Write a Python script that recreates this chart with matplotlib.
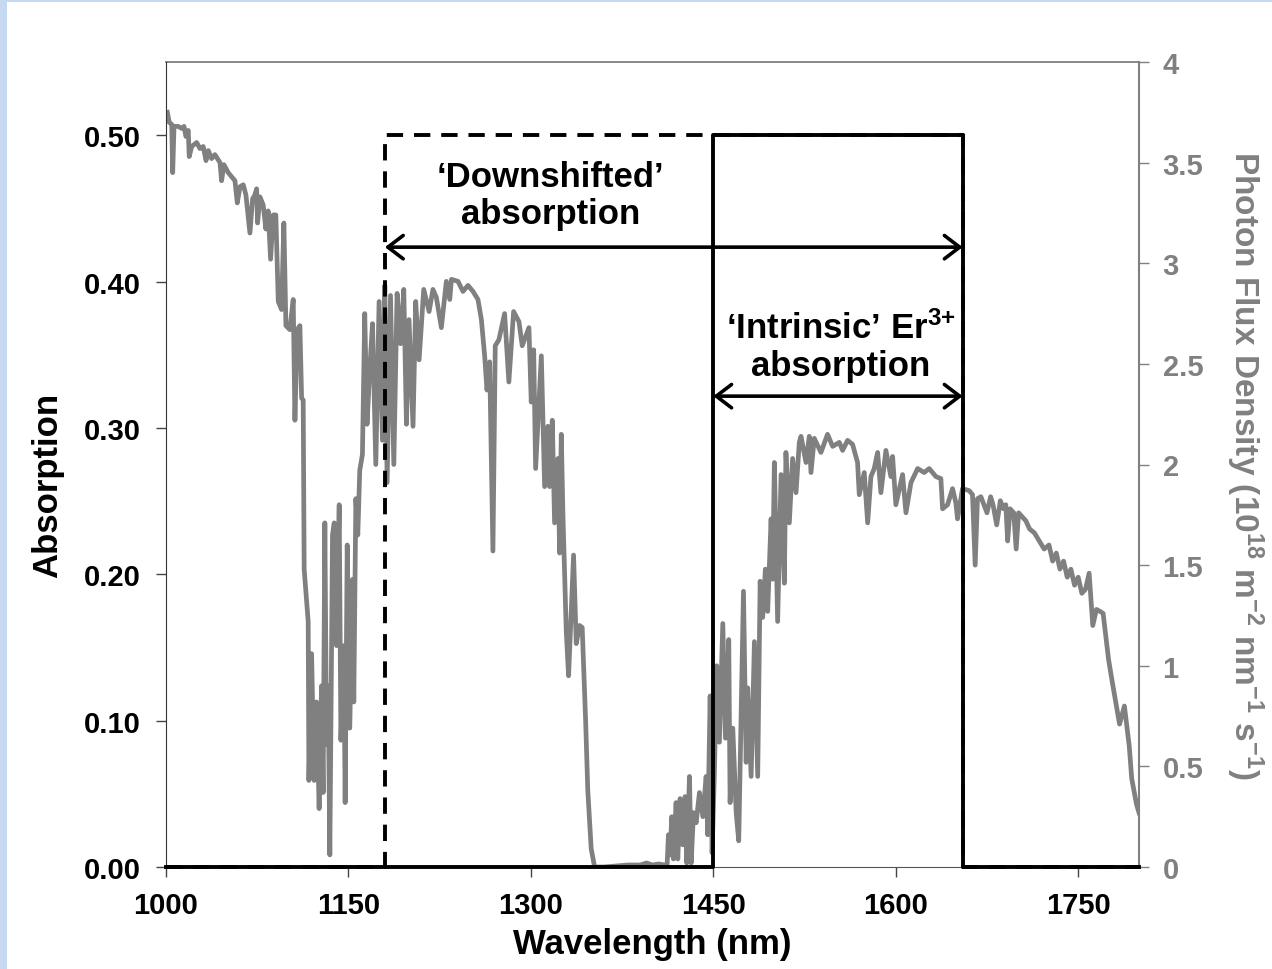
import matplotlib
matplotlib.use("Agg")
import matplotlib.pyplot as plt
from matplotlib.patches import Rectangle

plt.rcParams['font.family'] = ['Liberation Sans', 'DejaVu Sans']
plt.rcParams['font.weight'] = 'bold'
plt.rcParams['mathtext.fontset'] = 'custom'
plt.rcParams['mathtext.rm'] = 'Liberation Sans:bold'
plt.rcParams['mathtext.it'] = 'Liberation Sans:bold'
plt.rcParams['mathtext.bf'] = 'Liberation Sans:bold'

# ---------------- data ----------------
# Solar photon flux density (10^18 m^-2 nm^-1 s^-1)
wavelength = [
    1001.1, 1002.7, 1004.7, 1005.5, 1006.6, 1010.1, 1012.9, 1014.8, 1016.4, 1018.3,
    1019.1, 1021.1, 1025.2, 1027.9, 1030.6, 1032.9, 1034.8, 1037.5, 1040.2, 1044.4,
    1045.7, 1047.6, 1051.2, 1053.9, 1056.7, 1058.6, 1060.8, 1063.5, 1065.7, 1069.0,
    1071.2, 1073.1, 1074.5, 1075.3, 1077.2, 1079.9, 1082.1, 1084.0, 1086.0, 1088.1,
    1090.3, 1092.3, 1095.0, 1096.9, 1098.6, 1101.8, 1104.6, 1106.0, 1107.9, 1110.1,
    1111.5, 1112.8, 1113.6, 1116.9, 1117.5, 1119.7, 1121.8, 1123.8, 1125.9, 1127.9,
    1129.2, 1130.6, 1132.0, 1133.3, 1134.7, 1136.9, 1138.3, 1140.2, 1142.4, 1143.8,
    1146.2, 1147.3, 1149.0, 1151.1, 1153.4, 1154.4, 1156.1, 1157.7, 1159.3, 1161.5,
    1163.4, 1165.3, 1167.6, 1169.8, 1172.5, 1175.2, 1178.0, 1179.9, 1181.8, 1184.6,
    1187.3, 1190.0, 1192.8, 1195.5, 1197.7, 1199.8, 1203.1, 1205.3, 1208.1, 1211.9,
    1216.3, 1219.5, 1222.3, 1226.4, 1230.5, 1233.3, 1234.7, 1240.1, 1244.2, 1248.3,
    1252.4, 1256.5, 1259.3, 1262.0, 1263.9, 1266.1, 1268.8, 1270.7, 1273.7, 1278.4,
    1281.9, 1285.8, 1290.2, 1292.9, 1298.4, 1300.3, 1302.3, 1303.9, 1308.6, 1311.3,
    1314.0, 1315.4, 1317.6, 1319.5, 1322.3, 1323.6, 1325.0, 1326.4, 1329.1, 1331.0,
    1335.1, 1337.3, 1340.0, 1342.2, 1345.0, 1346.8, 1349.6, 1352.4, 1360.0, 1370.0,
    1380.0, 1390.0, 1395.0, 1400.0, 1405.0, 1410.0, 1412.0, 1413.1, 1414.5, 1415.8,
    1417.2, 1419.4, 1420.8, 1422.7, 1424.9, 1426.8, 1428.2, 1430.4, 1431.8, 1433.7,
    1435.9, 1438.6, 1441.4, 1444.1, 1445.4, 1447.4, 1449.0, 1450.9, 1452.8, 1455.0,
    1457.8, 1460.0, 1462.7, 1463.8, 1466.0, 1468.8, 1470.9, 1474.8, 1477.0, 1478.3,
    1481.1, 1483.8, 1486.5, 1488.5, 1490.6, 1492.8, 1494.7, 1497.5, 1498.8, 1500.2,
    1502.9, 1505.7, 1508.4, 1509.7, 1512.5, 1515.2, 1518.0, 1520.7, 1522.1, 1526.2,
    1528.9, 1530.3, 1533.0, 1538.5, 1543.9, 1548.1, 1553.6, 1556.3, 1560.4, 1564.5,
    1568.6, 1570.0, 1574.1, 1576.9, 1579.6, 1582.3, 1585.1, 1587.8, 1591.9, 1596.0,
    1597.4, 1600.1, 1605.6, 1608.4, 1612.5, 1618.0, 1623.4, 1627.5, 1633.0, 1637.1,
    1638.5, 1642.6, 1646.7, 1649.4, 1650.8, 1654.9, 1660.4, 1663.1, 1665.3, 1667.2,
    1670.0, 1672.5, 1675.0, 1678.0, 1680.0, 1683.0, 1686.0, 1688.5, 1690.5, 1692.0,
    1694.0, 1697.0, 1699.0, 1701.0, 1704.0, 1707.0, 1710.0, 1714.0, 1718.0, 1722.0,
    1726.0, 1729.0, 1732.0, 1735.0, 1738.0, 1741.0, 1744.0, 1747.0, 1750.0, 1753.0,
    1756.0, 1759.0, 1762.0, 1765.0, 1768.0, 1770.5, 1775.0, 1778.0, 1784.0, 1788.0,
    1792.0, 1794.0, 1798.0, 1800.0,
]
photon_flux = [
    3.75, 3.70, 3.69, 3.45, 3.68, 3.68, 3.67, 3.68, 3.63, 3.66,
    3.53, 3.58, 3.60, 3.57, 3.58, 3.51, 3.56, 3.52, 3.54, 3.50,
    3.41, 3.49, 3.45, 3.43, 3.41, 3.30, 3.38, 3.39, 3.34, 3.15,
    3.32, 3.34, 3.37, 3.20, 3.33, 3.29, 3.17, 3.26, 3.02, 3.24,
    3.24, 2.81, 2.77, 3.20, 2.69, 2.67, 2.82, 2.22, 2.67, 2.69,
    2.33, 2.32, 1.48, 1.22, 0.43, 1.06, 0.43, 0.82, 0.29, 0.90,
    0.37, 1.71, 0.61, 0.90, 0.06, 1.65, 1.71, 1.10, 1.80, 0.63,
    1.10, 0.32, 1.60, 0.69, 1.43, 0.82, 1.83, 1.65, 1.97, 2.05,
    2.75, 2.20, 2.48, 2.70, 2.00, 2.81, 2.12, 2.89, 1.91, 2.84,
    2.00, 2.85, 2.60, 2.87, 2.20, 2.72, 2.19, 2.81, 2.52, 2.87,
    2.76, 2.87, 2.83, 2.68, 2.91, 2.82, 2.92, 2.91, 2.86, 2.89,
    2.86, 2.82, 2.72, 2.54, 2.37, 2.51, 1.57, 2.59, 2.62, 2.75,
    2.41, 2.76, 2.71, 2.59, 2.68, 2.31, 2.57, 1.98, 2.54, 1.89,
    2.19, 1.89, 2.22, 1.71, 2.03, 1.56, 2.15, 1.74, 1.17, 0.95,
    1.55, 1.11, 1.20, 1.19, 0.73, 0.38, 0.09, 0.00, 0.00, 0.005,
    0.01, 0.01, 0.02, 0.01, 0.015, 0.01, 0.01, 0.16, 0.06, 0.25,
    0.04, 0.32, 0.04, 0.34, 0.11, 0.35, 0.02, 0.45, 0.02, 0.27,
    0.22, 0.37, 0.25, 0.45, 0.16, 0.85, 0.07, 0.47, 1.00, 0.62,
    1.21, 0.64, 1.13, 0.32, 0.69, 0.27, 0.13, 1.37, 0.52, 0.89,
    0.45, 1.12, 0.45, 1.42, 1.24, 1.48, 1.27, 1.73, 1.43, 2.01,
    1.22, 1.95, 1.41, 2.06, 1.71, 2.03, 1.86, 2.11, 2.14, 2.01,
    2.14, 1.96, 2.13, 2.06, 2.15, 2.09, 2.11, 2.07, 2.12, 2.10,
    2.01, 1.85, 1.96, 1.71, 1.94, 1.98, 2.06, 1.86, 2.07, 1.94,
    2.04, 1.80, 1.95, 1.76, 1.91, 1.98, 1.96, 1.98, 1.94, 1.93,
    1.78, 1.80, 1.88, 1.81, 1.73, 1.88, 1.87, 1.85, 1.50, 1.83,
    1.84, 1.80, 1.76, 1.84, 1.80, 1.70, 1.82, 1.78, 1.80, 1.62,
    1.78, 1.76, 1.58, 1.76, 1.74, 1.72, 1.68, 1.66, 1.62, 1.58,
    1.60, 1.52, 1.56, 1.48, 1.52, 1.44, 1.48, 1.40, 1.44, 1.36,
    1.38, 1.46, 1.20, 1.28, 1.27, 1.26, 1.03, 0.92, 0.71, 0.80,
    0.60, 0.44, 0.31, 0.27,
]

# Absorption profiles (step functions)
intrinsic_wl = [1000, 1450, 1450, 1655, 1655, 1800]
intrinsic_abs = [0.0, 0.0, 0.5, 0.5, 0.0, 0.0]
downshift_wl = [1000, 1180, 1180, 1655, 1655, 1800]
downshift_abs = [0.0, 0.0, 0.5, 0.5, 0.0, 0.0]

# Arrow annotations
downshift_arrow = (1180, 1655, 0.4235)
intrinsic_arrow = (1450, 1655, 0.3217)

x_ticks = [1000, 1150, 1300, 1450, 1600, 1750]
left_ticks = [0.0, 0.1, 0.2, 0.3, 0.4, 0.5]
right_ticks = [0, 0.5, 1, 1.5, 2, 2.5, 3, 3.5, 4]
right_ticklabels = ['0', '0.5', '1', '1.5', '2', '2.5', '3', '3.5', '4']

# ---------------- figure ----------------
W, H = 1272, 970
fig = plt.figure(figsize=(W / 100, H / 100), dpi=100)
fig.patch.set_facecolor('#c6d9f1')
fig.add_artist(Rectangle((7 / W, 0), 1 - 7 / W, 1 - 3 / H, transform=fig.transFigure,
                         facecolor='white', edgecolor='none', zorder=-5))

ax = fig.add_axes([166 / W, 1 - 868 / H, (1139 - 166) / W, (868 - 63) / H])
ax2 = ax.twinx()
ax.set_zorder(ax2.get_zorder() + 1)
ax.patch.set_visible(False)
ax2.patch.set_facecolor('white')

GRAY = '#808080'
ax2.plot(wavelength, photon_flux, color=GRAY, lw=3.4, solid_joinstyle='round', zorder=2)
ax2.set_ylim(0, 4)
ax2.set_yticks(right_ticks)
ax2.set_yticklabels(right_ticklabels)

ax.plot(downshift_wl, downshift_abs, color='black', lw=2.8, ls=(0, (4.2, 2.8)), clip_on=False, zorder=3)
ax.plot(intrinsic_wl, intrinsic_abs, color='black', lw=2.8, clip_on=False, zorder=4)

ax.set_xlim(1000, 1800)
ax.set_ylim(0, 0.55)
ax.set_xticks(x_ticks)
ax.set_yticks(left_ticks)
ax.set_yticklabels([f'{v:.2f}' for v in left_ticks])

arrow_kw = dict(arrowstyle='<->,head_length=0.55,head_width=0.42', lw=2.6, color='black',
                shrinkA=0, shrinkB=0, mutation_scale=20)
for x0, x1, yv in (downshift_arrow, intrinsic_arrow):
    ax.annotate('', xy=(x0, yv), xytext=(x1, yv), arrowprops=arrow_kw, zorder=5)

ax.text(1316, 0.459, '‘Downshifted’\nabsorption', ha='center', va='center',
        fontsize=25, fontweight='bold', linespacing=1.15)
ax.text(1555, 0.356, '‘Intrinsic’ Er$^{3{+}}$\nabsorption', ha='center', va='center',
        fontsize=25, fontweight='bold', linespacing=1.15)

# spines
ax.spines['left'].set_color('#333333')
ax.spines['bottom'].set_color('#555555')
for s in ('top', 'right'):
    ax.spines[s].set_visible(False)
for s in ('left', 'bottom'):
    ax2.spines[s].set_visible(False)
ax2.spines['top'].set_color(GRAY)
ax2.spines['right'].set_color(GRAY)
ax2.spines['right'].set_linewidth(1.5)
ax2.spines['top'].set_linewidth(1.3)

ax.tick_params(axis='both', direction='out', length=7, width=1, color='#444444',
               labelsize=21, colors='black')
ax.tick_params(axis='x', pad=10)
ax.tick_params(axis='y', pad=11)
ax2.tick_params(axis='y', direction='out', length=7, width=1, color=GRAY,
                labelcolor=GRAY, labelsize=21, pad=10)
for lab in ax.get_xticklabels() + ax.get_yticklabels() + ax2.get_yticklabels():
    lab.set_fontweight('bold')

ax.set_xlabel('Wavelength (nm)', fontsize=25, fontweight='bold')
ax.xaxis.set_label_coords(0.5, -0.075)
ax.set_ylabel('Absorption', fontsize=25, fontweight='bold')
ax.yaxis.set_label_coords(-0.105, 0.475)
ax2.set_ylabel('Photon Flux Density (10$^{18}$ m$^{-2}$ nm$^{-1}$ s$^{-1}$)',
               fontsize=24, fontweight='bold', color=GRAY, rotation=270, va='bottom')
ax2.yaxis.set_label_coords(1.087, 0.5)

fig.savefig('out.png', dpi=100, facecolor=fig.get_facecolor())
